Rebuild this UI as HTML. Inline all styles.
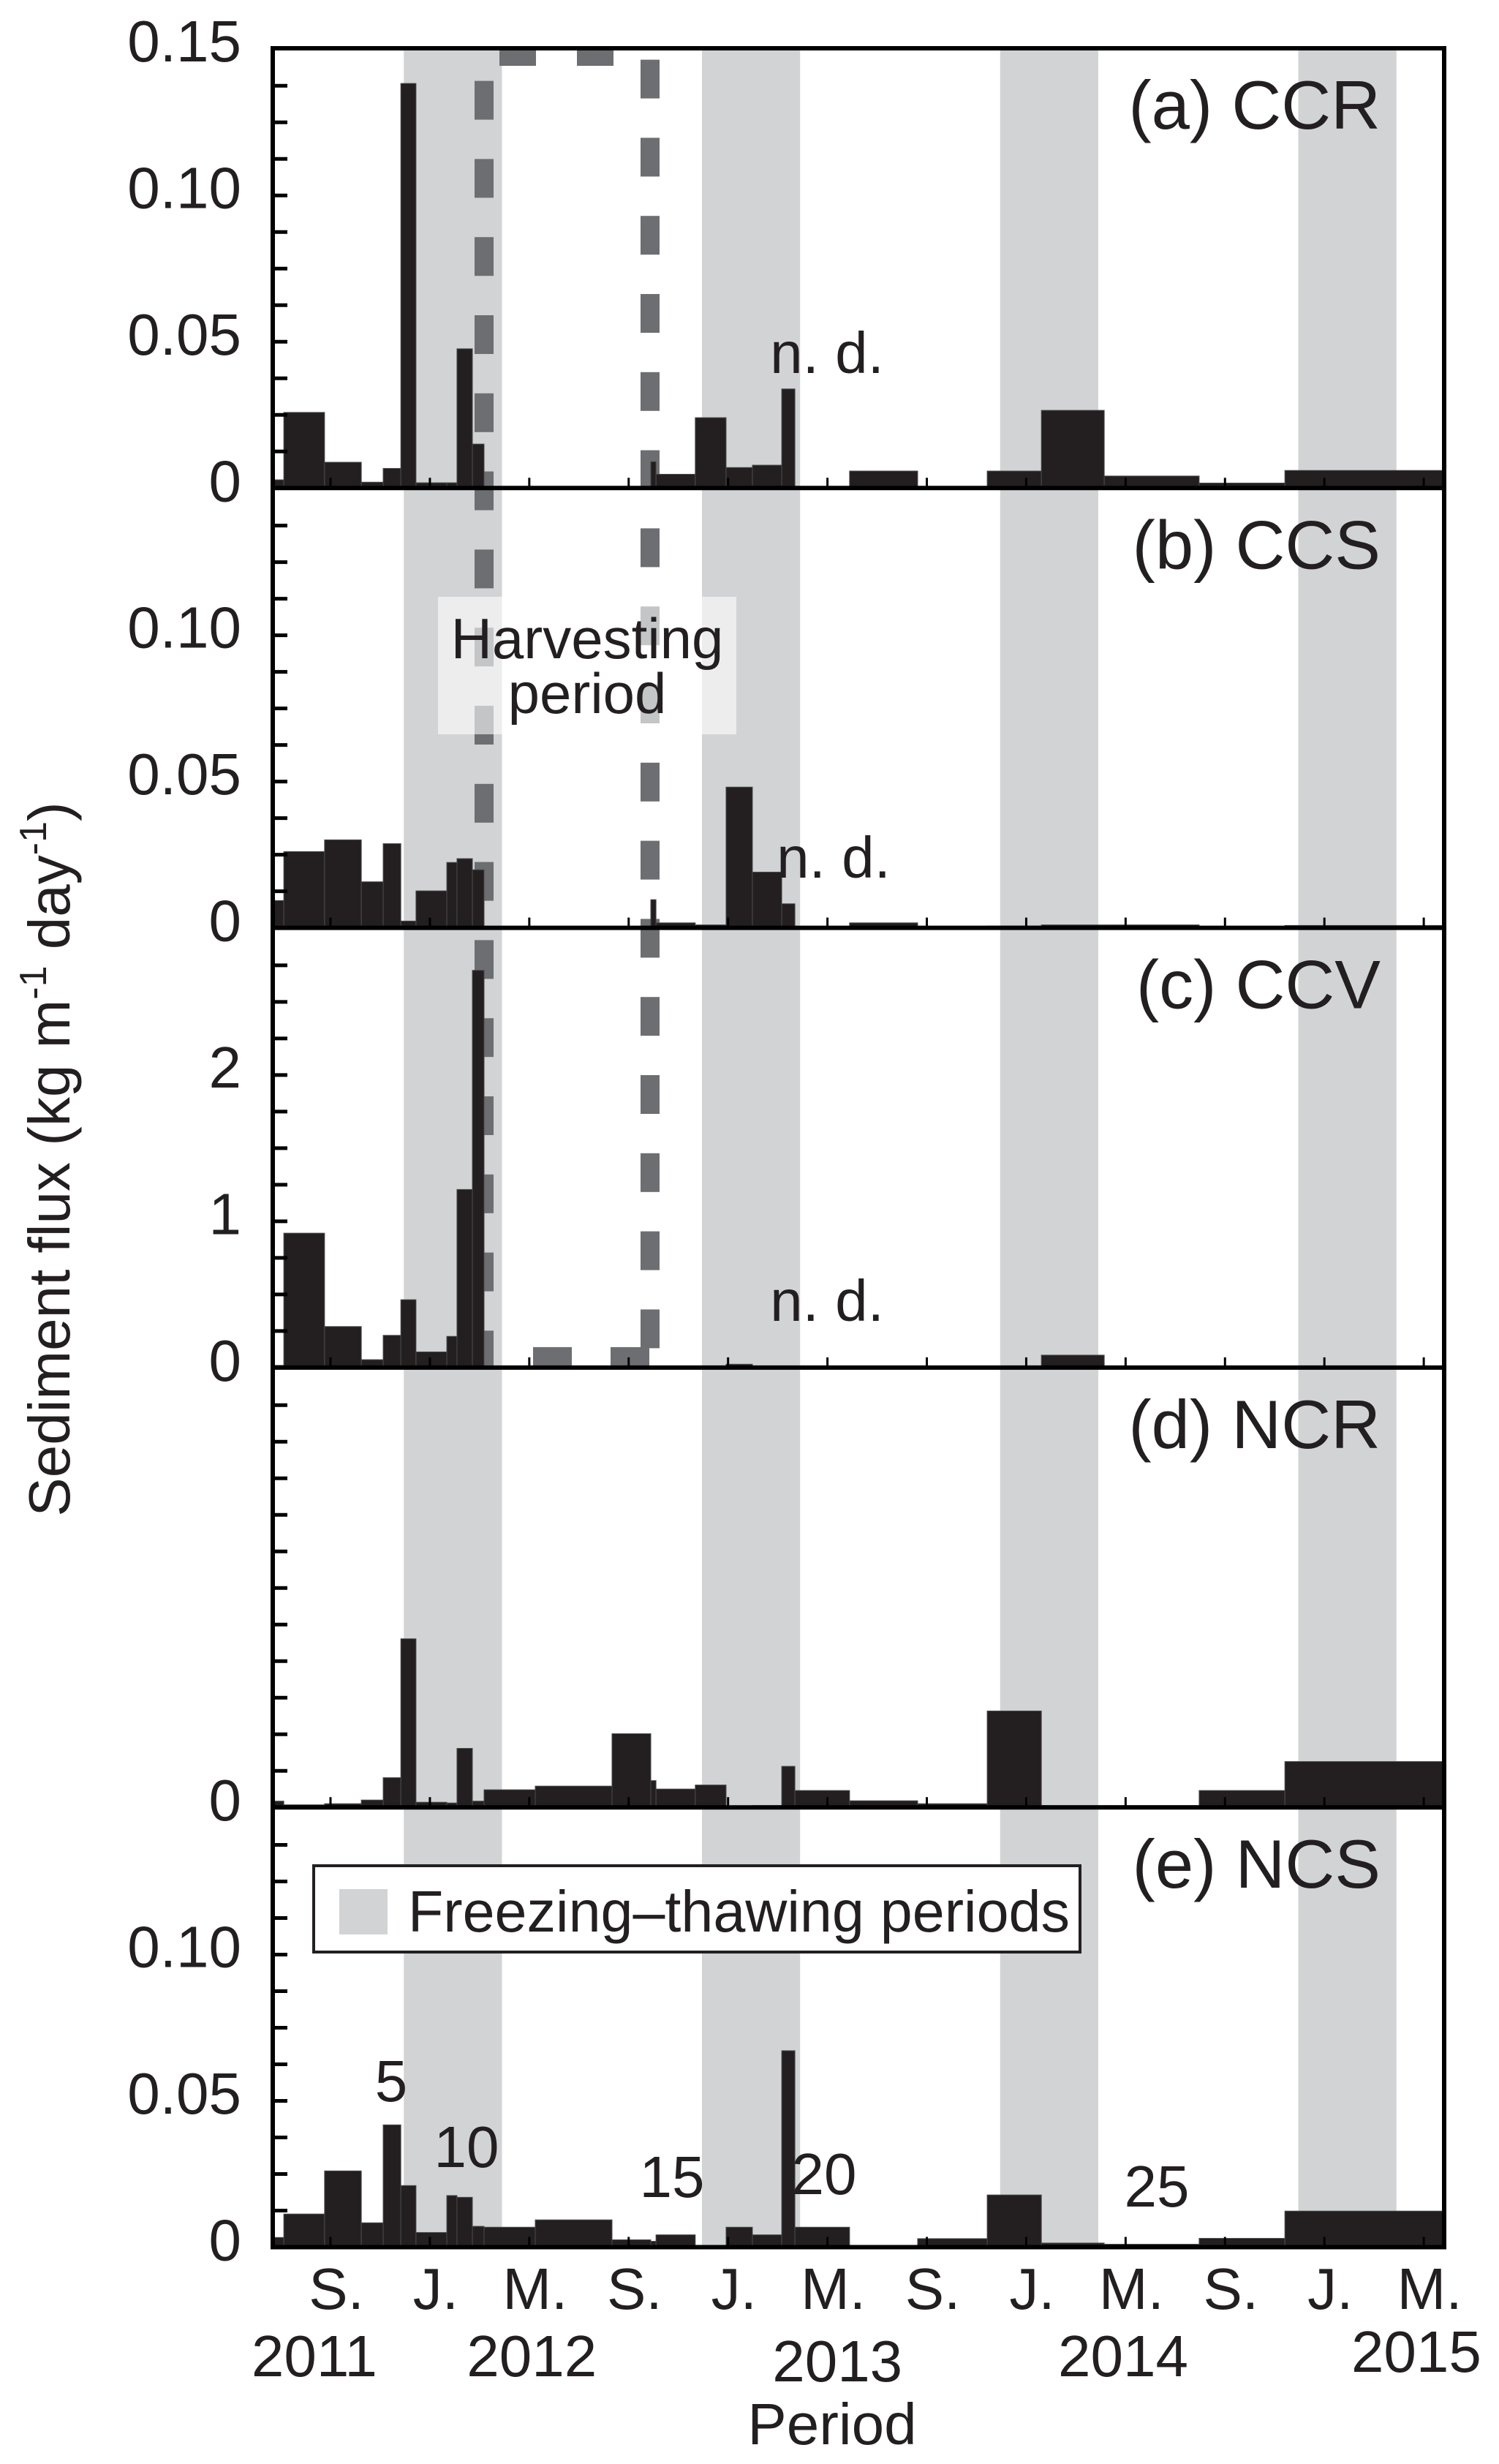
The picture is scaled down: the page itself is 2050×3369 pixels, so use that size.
<!DOCTYPE html>
<html><head><meta charset="utf-8">
<style>
html,body{margin:0;padding:0;background:#fff;}
svg{display:block;}
text{font-family:"Liberation Sans",sans-serif;fill:#231f20;}
</style></head>
<body>
<svg id="chart" width="2050" height="3369" viewBox="0 0 2050 3369" xmlns="http://www.w3.org/2000/svg">
<g id="bands"></g>
<g id="dashes"></g>
<rect x="599" y="816" width="408" height="188" fill="#ffffff" fill-opacity="0.6"/>
<text x="803" y="900" font-size="78" text-anchor="middle">Harvesting</text>
<text x="803" y="975" font-size="78" text-anchor="middle">period</text>
<g id="bars"></g>
<g id="axes"></g>
<text transform="translate(95,1585) rotate(-90)" font-size="80" text-anchor="middle">Sediment flux (kg m<tspan font-size="52" dy="-32">-1</tspan><tspan dy="32"> day</tspan><tspan font-size="52" dy="-32">-1</tspan><tspan dy="32">)</tspan></text>
<text x="1138" y="3342" font-size="80" text-anchor="middle">Period</text>
<g>
<rect x="429" y="2551" width="1048" height="118" fill="#fff" stroke="#231f20" stroke-width="4"/>
<rect x="464" y="2583" width="66" height="62" fill="#d1d3d4"/>
<text x="558" y="2641" font-size="80" textLength="905" lengthAdjust="spacingAndGlyphs">Freezing–thawing periods</text>
</g>
</svg>
<script>
// ---- data ----
const periodBounds = [-2.32,-1.88,-0.24,1.24,2.12,2.83,3.44,4.68,5.09,5.71,6.18,8.24,11.33,12.89,13.10,14.68,15.92,16.98,18.16,18.69,20.89,23.63,26.43,28.61,31.14,34.96,38.41,44.82];
const valuesCCR = [0.0028,0.0258,0.0088,0.002,0.0067,0.138,0.0018,0.0018,0.0475,0.015,0,0,0,0.009,0.0047,0.024,0.007,0.0078,0.0338,null,0.0058,0.0004,0.0058,0.0265,0.0041,0.0017,0.006];
const valuesCCS = [0.0093,0.026,0.030,0.0157,0.0287,0.0023,0.0126,0.0223,0.0236,0.0198,0,0,0,0.0096,0.0017,0.001,0.048,0.019,0.0082,null,0.0017,0.0002,0.0006,0.001,0.001,0.0003,0.0008];
const valuesCCV = [0.015,0.917,0.28,0.054,0.22,0.463,0.107,0.213,1.215,2.71,0,0,0,0.004,0,0,0.023,0,0,null,0,0,0,0.085,0,0,0];
const valuesNCR = [0.17,0.07,0.1,0.2,0.81,4.6,0.14,0.12,1.61,0.17,0.48,0.58,2.01,0.73,0.5,0.61,0.04,0.05,1.12,0.46,0.18,0.1,2.63,0.05,0.05,0.46,1.25];
const valuesNCS = [0.0033,0.0113,0.026,0.0083,0.0417,0.021,0.005,0.0176,0.017,0.0071,0.0068,0.0093,0.0025,0.002,0.0042,0.0005,0.0068,0.0042,0.067,0.0068,0.0003,0.0029,0.0178,0.0014,0.001,0.003,0.0123];
const panelTitles = ["(a) CCR","(b) CCS","(c) CCV","(d) NCR","(e) NCS"];
const panelMax = [0.15,0.15,3,12,0.15];
const tickLabelsA = ["0","0.05","0.10","0.15"];
const tickValuesA = [0,0.05,0.10,0.15];
const tickLabelsB = ["0","0.05","0.10"];
const tickValuesB = [0,0.05,0.10];
const tickLabelsC = ["0","1","2"];
const tickValuesC = [0,1,2];
const tickLabelsD = ["0"];
const tickValuesD = [0];
const freezeStart = [2.95,14.95,26.95,38.95];
const freezeEnd = [6.9,18.9,30.9,42.9];
const harvestStart = 6.18, harvestEnd = 12.86;
const monthLabels = ["S.","J.","M.","S.","J.","M.","S.","J.","M.","S.","J.","M."];
const yearLabels = ["2011","2012","2013","2014","2015"];
const yearMonths = [-0.65,8.1,20.4,31.9,43.7];
const periodNumbers = ["5","10","15","20","25"];
const periodNumberIdx = [4,9,14,19,24];

// ---- layout ----
const NS="http://www.w3.org/2000/svg";
const X0=373,X1=1975,TOP=66,PH=601.3;
const xs = m => 452 + 33.98*m;
const panelTop = i => TOP + i*PH;
const panelBase = i => TOP + (i+1)*PH;
const ys = (i,v) => panelBase(i) - v/panelMax[i]*PH;
function mk(tag,attrs,parent){const e=document.createElementNS(NS,tag);for(const k in attrs)e.setAttribute(k,attrs[k]);parent.appendChild(e);return e;}
const bandsG=document.getElementById('bands'),dashG=document.getElementById('dashes'),barsG=document.getElementById('bars'),axG=document.getElementById('axes');

freezeStart.forEach((s,k)=>{
  const r=mk('rect',{x:xs(s),y:TOP,width:xs(freezeEnd[k])-xs(s),height:5*PH,fill:'#d1d3d4'},bandsG);
  
  
});
const hx1=xs(harvestStart), hx2=xs(harvestEnd), hBottom=panelBase(2);
function vdash(cx,start){
  for(let s=start;s<hBottom;s+=106.8){
    const y0=Math.max(s,TOP), y1=Math.min(s+53,hBottom);
    if(y1<=y0)continue;
    const r=mk('rect',{x:cx-13,y:y0,width:26,height:y1-y0,fill:'#6d6e71'},dashG);
    
    
  }
}
vdash(hx1,110.6); vdash(hx2,81.6);
[[683,733],[789,839]].forEach(p=>{const r=mk('rect',{x:p[0],y:TOP,width:p[1]-p[0],height:24,fill:'#6d6e71'},dashG);});
[[729,782],[835,888]].forEach(p=>{const r=mk('rect',{x:p[0],y:hBottom-28,width:p[1]-p[0],height:28,fill:'#6d6e71'},dashG);});

const series=[valuesCCR,valuesCCS,valuesCCV,valuesNCR,valuesNCS];
series.forEach((vals,i)=>{
  vals.forEach((v,j)=>{
    if(v===null||v<=0)return;
    const x=xs(periodBounds[j]), w=xs(periodBounds[j+1])-x, y=ys(i,v);
    const r=mk('rect',{x:x,y:y,width:w,height:panelBase(i)-y,fill:'#231f20',stroke:'#4a4a4a','stroke-width':1},barsG);
    
    
  });
});

const tickSets=[[tickValuesA,tickLabelsA],[tickValuesB,tickLabelsB],[tickValuesC,tickLabelsC],[tickValuesD,tickLabelsD],[tickValuesB,tickLabelsB]];
for(let i=0;i<5;i++){
  const t=panelTop(i), b=panelBase(i);
  for(let y=b-50;y>t+5;y-=50){
    const l=mk('line',{x1:X0,x2:X0+20,y1:y,y2:y,stroke:'#000','stroke-width':5},axG);
    
    
  }
  for(let k=0;k<12;k++){
    const x=xs(4*k);
    const l=mk('line',{x1:x,x2:x,y1:b,y2:b-14,stroke:'#000','stroke-width':3},axG);
    
    
  }
  const tv=tickSets[i][0], tl=tickSets[i][1];
  tv.forEach((v,k)=>{
    const tx=mk('text',{x:330,y:ys(i,v)+18,'font-size':80,'text-anchor':'end'},axG);
    tx.textContent=tl[k];
    
    
  });
  const tt=mk('text',{x:1888,y:t+110,'font-size':94,'text-anchor':'end'},axG);
  tt.textContent=panelTitles[i];
  
  
}
const fr=mk('rect',{x:X0,y:TOP,width:X1-X0,height:5*PH,fill:'none',stroke:'#000','stroke-width':6},axG);


for(let i=1;i<5;i++){
  const l=mk('line',{x1:X0,x2:X1,y1:panelBase(i-1),y2:panelBase(i-1),stroke:'#000','stroke-width':6},axG);
  
  
}
[[1131,510],[1140,1200],[1131,1806]].forEach(p=>{
  const t=mk('text',{x:p[0],y:p[1],'font-size':80,'text-anchor':'middle'},axG);
  t.textContent='n. d.';
  
  
});
const numY=[2873,2963,3004,3000,3017];
periodNumbers.forEach((n,k)=>{
  const cx=[535,638,919,1127,1582][k];
  const t=mk('text',{x:cx,y:numY[k],'font-size':80,'text-anchor':'middle'},axG);
  t.textContent=n;
  
  
});
monthLabels.forEach((m,k)=>{
  const t=mk('text',{x:xs(4*k)+8,y:3157,'font-size':80,'text-anchor':'middle'},axG);
  t.textContent=m;
  
  
});
const yearY=[3249,3249,3256,3249,3243];
yearLabels.forEach((yl,k)=>{
  const t=mk('text',{x:xs(yearMonths[k]),y:yearY[k],'font-size':80,'text-anchor':'middle'},axG);
  t.textContent=yl;
  
  
});
</script>
</body></html>
